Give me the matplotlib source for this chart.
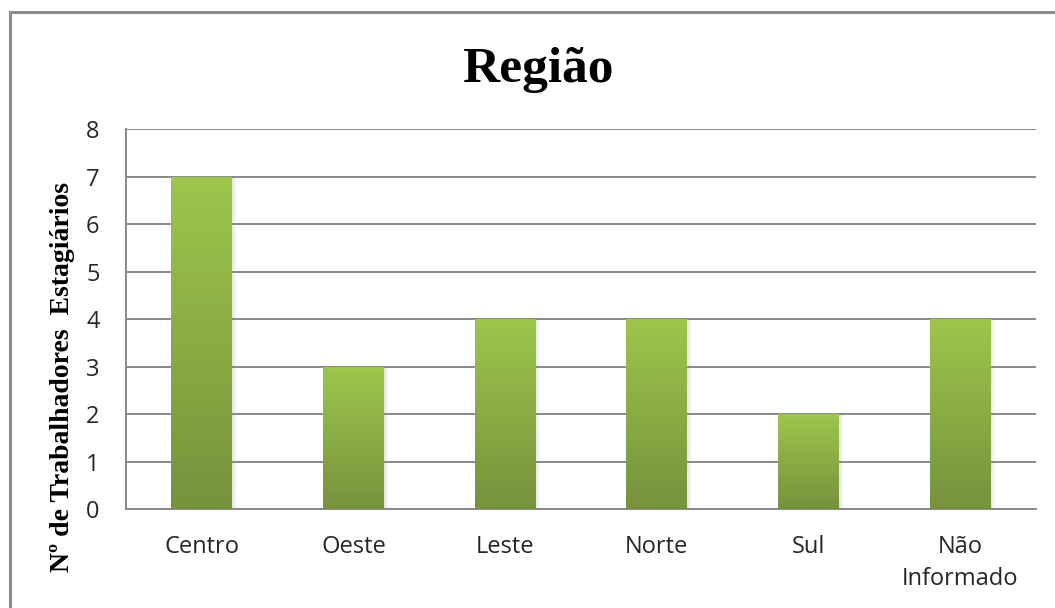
import numpy as np
import matplotlib
matplotlib.use('Agg')
import matplotlib.pyplot as plt
from matplotlib.colors import LinearSegmentedColormap
from matplotlib.patches import Rectangle

# data
regioes = ['Centro', 'Oeste', 'Leste', 'Norte', 'Sul', 'Não\nInformado']
valores = [7, 3, 4, 4, 2, 4]

fig = plt.figure(figsize=(10.55, 6.08), dpi=100)
ax = fig.add_axes([0.1194, 0.1628, 0.8626, 0.625])

# outer chart border (only top and left visible in the original crop)
fig.patches.append(Rectangle((10 / 1055, -0.1), 1.2, 1 - 12 / 608 + 0.1,
                             transform=fig.transFigure, fill=False,
                             edgecolor='#8c8c8c', linewidth=2.2))

grad = LinearSegmentedColormap.from_list('verde', ['#76923c', '#9dc64b'])
x = np.arange(len(regioes))
largura = 0.4
bars = ax.bar(x, valores, width=largura, color='none', zorder=3)

img = np.linspace(0, 1, 256).reshape(-1, 1)
for b in bars:
    x0, y0 = b.get_x(), b.get_y()
    w, h = b.get_width(), b.get_height()
    # soft shadow on the right
    for k, a in enumerate([0.10, 0.06, 0.03]):
        ax.add_patch(Rectangle((x0 + w, y0), 0.012 * (k + 1), h,
                               facecolor='#808080', alpha=a,
                               edgecolor='none', zorder=2))
    im = ax.imshow(img, cmap=grad, origin='lower', aspect='auto',
                   extent=(x0, x0 + w, y0, y0 + h), zorder=3)
    im.set_clip_path(b)

ax.set_xlim(-0.5, len(regioes) - 0.5)
ax.set_ylim(0, 8)
ax.set_yticks(range(0, 9))
ax.set_xticks(x)
ax.set_xticklabels(regioes, fontsize=17, family='Open Sans', color='#262626',
                   linespacing=1.4)
ax.set_yticklabels([str(v) for v in range(0, 9)], fontsize=17,
                   family='Open Sans', color='#262626')
ax.tick_params(axis='y', length=0, pad=19)
ax.tick_params(axis='x', length=0, pad=19)

ax.grid(axis='y', color='#898989', linewidth=1.4, zorder=0)
ax.set_axisbelow(True)
for s in ['top', 'right']:
    ax.spines[s].set_visible(False)
for s in ['left', 'bottom']:
    ax.spines[s].set_color('#898989')
    ax.spines[s].set_linewidth(1.4)

fig.text(0.510, 0.885, 'Região', ha='center', va='center',
         fontsize=37, fontweight='bold', family='Liberation Serif')
fig.text(0.059, 0.38, 'Nº de Trabalhadores  Estagiários', rotation=90,
         ha='center', va='center', fontsize=20, fontweight='bold',
         family='Liberation Serif')

fig.savefig('out.png', dpi=100)
